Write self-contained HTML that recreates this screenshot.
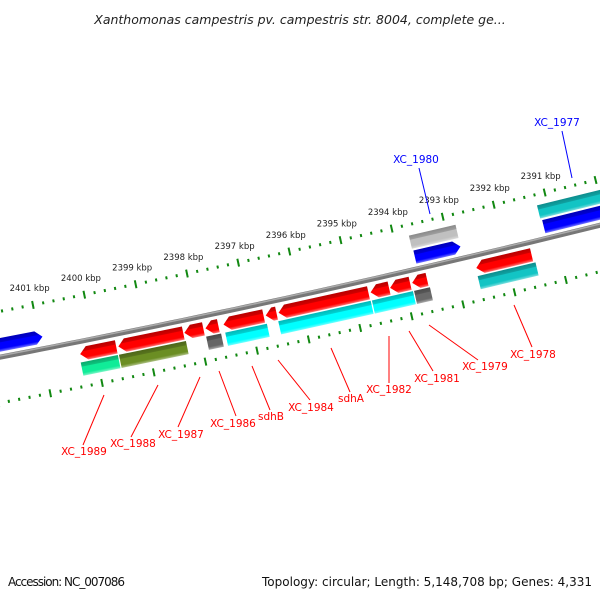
<!DOCTYPE html>
<html><head><meta charset="utf-8"><style>
html,body{margin:0;padding:0;background:#fff;width:600px;height:600px;overflow:hidden}
svg text{font-family:"DejaVu Sans","Liberation Sans",sans-serif}
</style></head><body>
<svg id="map" width="600" height="600" viewBox="0 0 600 600" xmlns="http://www.w3.org/2000/svg">
<defs id="defs"></defs>
<rect x="0" y="0" width="600" height="600" fill="#fff"/>
<text x="300" y="24" text-anchor="middle" font-size="12.5" font-style="italic" fill="#222">Xanthomonas campestris pv. campestris str. 8004, complete ge...</text>
<g id="ticks"></g>
<g id="backbone"></g>
<g id="genes"></g>
<g id="labels"></g>
<text x="8" y="586" font-size="12" fill="#111" textLength="117">Accession: NC_007086</text>
<text x="262" y="586" font-size="12" fill="#111" textLength="330">Topology: circular; Length: 5,148,708 bp; Genes: 4,331</text>
</svg>
<script>
// ---- data (kbp positions) ----
const tickLabels = [2401,2400,2399,2398,2397,2396,2395,2394,2393,2392,2391];
const geneNames = ["blue-left","xc-1980-blue","xc-1977-blue","xc-1980-gray","xc-1977-teal",
  "xc-1989","xc-1988","xc-1987","xc-1986","sdhB","xc-1984","xc-1982","xc-1981","xc-1979","xc-1978",
  "xc-1989-b","xc-1988-b","xc-1987-b","xc-1986-b","xc-1984-b","xc-1982-b","xc-1981-b","xc-1978-b"];
const geneStart = [2403.0,2393.69,2391.17,2393.71,2391.20,
  2400.30,2399.56,2398.28,2397.87,2397.52,2396.70,2396.45,2394.66,2394.28,2393.85,
  2400.32,2399.58,2397.89,2397.52,2396.49,2394.67,2393.85,2392.61];
const geneEnd = [2400.94,2392.80,2389.0,2392.80,2389.0,
  2399.60,2398.30,2397.91,2397.62,2396.74,2396.49,2394.70,2394.30,2393.89,2393.56,
  2399.60,2398.28,2397.60,2396.71,2394.69,2393.87,2393.54,2391.48];
const geneStrand = [1,1,1,0,0, -1,-1,-1,-1,-1,-1,-1,-1,-1,-1, 0,0,0,0,0,0,0,0];
const geneTrack = [-1,-1,-1,-2,-2, 1,1,1,1,1,1,1,1,1,1, 2,2,2,2,2,2,2,2];
const geneColor = ["#0000ff","#0000ff","#0000ff","#c0c0c0","#12c4c4",
  "#ff0000","#ff0000","#ff0000","#ff0000","#ff0000","#ff0000","#ff0000","#ff0000","#ff0000","#ff0000",
  "#10ec98","#6b8e23","#666666","#00ffff","#00ffff","#00ffff","#6a6a6a","#12c4c4"];
// special: red 2392.60-2391.52
geneNames.push("xc-1978-red"); geneStart.push(2392.60); geneEnd.push(2391.52); geneStrand.push(-1); geneTrack.push(1); geneColor.push("#ff0000");

const labelText = ["XC_1989","XC_1988","XC_1987","XC_1986","sdhB","XC_1984","sdhA","XC_1982","XC_1981","XC_1979","XC_1978","XC_1980","XC_1977"];
const labelColor = ["r","r","r","r","r","r","r","r","r","r","r","b","b"];

// ---- geometry ----
const R = 12000, CX = -2276, CY = -11425;
const PHI_REF = Math.acos((401.7 - CX) / R);
const PX_PER_KBP = 52.6;
function phi(k){ return PHI_REF + (k - 2394) * PX_PER_KBP / R; }
function pt(k, d){ const a = phi(k); return [CX + (R + d) * Math.cos(a), CY + (R + d) * Math.sin(a)]; }
function ang(k){ const a = phi(k); return Math.atan2(-Math.cos(a), Math.sin(a)) * 180 / Math.PI; }
const NS = "http://www.w3.org/2000/svg";
function mk(tag, attrs, parent){ const e = document.createElementNS(NS, tag); for (const k in attrs) e.setAttribute(k, attrs[k]); parent.appendChild(e); return e; }

// ticks
const tg = document.getElementById('ticks');
[-45, 45].forEach(function(d){
  for (let i = 2388 * 5; i <= 2404 * 5; i++){
    const k = i / 5, major = (i % 5 === 0), L = major ? 8 : 3;
    const p1 = pt(k, d - L / 2), p2 = pt(k, d + L / 2);
    const ln = mk('line', {x1:p1[0], y1:p1[1], x2:p2[0], y2:p2[1], stroke:'#118811', 'stroke-width':2}, tg);
    
    
  }
});
tickLabels.forEach(function(k){
  const p = pt(k, -62);
  const t = mk('text', {x:p[0], y:p[1] + 3, 'text-anchor':'middle', 'font-size':'8.5', fill:'#222'}, tg);
  t.textContent = k + ' kbp';
  
  
});

// backbone
const bg = document.getElementById('backbone');
let dstr = '';
for (let k = 2405; k >= 2387; k -= 0.25){ const p = pt(k, 0); dstr += (dstr ? 'L' : 'M') + p[0].toFixed(2) + ',' + p[1].toFixed(2); }
const bb1 = mk('path', {d:dstr, fill:'none', stroke:'#777', 'stroke-width':5}, bg);


let dstr2 = '';
for (let k = 2405; k >= 2387; k -= 0.25){ const p = pt(k, -1.3); dstr2 += (dstr2 ? 'L' : 'M') + p[0].toFixed(2) + ',' + p[1].toFixed(2); }
const bb2 = mk('path', {d:dstr2, fill:'none', stroke:'#aaa', 'stroke-width':1.5}, bg);



// genes
function shade(hex, f){
  const n = parseInt(hex.slice(1), 16); let r = n >> 16, g = (n >> 8) & 255, b = n & 255;
  if (f < 1){ r *= f; g *= f; b *= f; } else { const t = f - 1; r += (255 - r) * t; g += (255 - g) * t; b += (255 - b) * t; }
  return 'rgb(' + Math.round(r) + ',' + Math.round(g) + ',' + Math.round(b) + ')';
}
const defs = document.getElementById('defs');
const gradIds = {};
function grad(c){
  if (gradIds[c]) return gradIds[c];
  const id = 'g' + Object.keys(gradIds).length;
  const lg = mk('linearGradient', {id:id, x1:0, y1:0, x2:0, y2:1}, defs);
  [[0, shade(c, 0.72)], [0.3, shade(c, 0.82)], [0.34, c], [0.78, c], [1, shade(c, 1.45)]].forEach(function(s){ mk('stop', {offset:s[0], 'stop-color':s[1]}, lg); });
  gradIds[c] = id; return id;
}
const gg = document.getElementById('genes');
const trackD = {'-2':-27.5, '-1':-12, '1':12.5, '2':27.5};
const H = 13.5;
for (let i = 0; i < geneStart.length; i++){
  const k0 = geneStart[i], k1 = geneEnd[i], d = trackD[String(geneTrack[i])];
  const L = (k0 - k1) * PX_PER_KBP, a = Math.min(7, L), h = H / 2;
  let pts;
  if (geneStrand[i] === 1) pts = [[0,-h],[L-a,-h],[L,0],[L-a,h],[0,h]];
  else if (geneStrand[i] === -1) pts = [[a,-h],[L,-h],[L,h],[a,h],[0,0]];
  else pts = [[0,-h],[L,-h],[L,h],[0,h]];
  const p = pt(k0, d), an = ang((k0 + k1) / 2);
  const g = mk('g', {transform:'translate(' + p[0].toFixed(2) + ',' + p[1].toFixed(2) + ') rotate(' + an.toFixed(3) + ')'}, gg);
  
  
  const poly = mk('polygon', {points:pts.map(function(q){ return q[0].toFixed(2) + ',' + q[1]; }).join(' '), fill:'url(#' + grad(geneColor[i]) + ')'}, g);
  
  
}

// labels (annotation leader lines in screen space)
const labelPos = [[84,451],[133,443],[181,434],[233,423],[271,416],[311,407],[351,398],[389,389],[437,378],[485,366],[533,354],[416,159],[557,122]];
const leaderFrom = [[104,395],[158,385],[200,377],[219,371],[252,366],[278,360],[331,348],[389,336],[409,331],[429,325],[514,305],[430,214],[572,178]];
const leaderTo = [[83,445],[131,437],[178,427],[236,416],[270,410],[310,400],[350,392],[389,383],[433,371],[478,360],[532,347],[419,168],[562,131]];
const lg2 = document.getElementById('labels');
for (let i = 0; i < labelText.length; i++){
  const col = labelColor[i] === 'r' ? '#ff0000' : '#0000ff';
  const ln = mk('line', {x1:leaderFrom[i][0], y1:leaderFrom[i][1], x2:leaderTo[i][0], y2:leaderTo[i][1], stroke:col, 'stroke-width':1}, lg2);
  
  
  const t = mk('text', {x:labelPos[i][0], y:labelPos[i][1] + 4, 'text-anchor':'middle', 'font-size':'10.5', fill:col}, lg2);
  t.textContent = labelText[i];
  
  
}
</script>
</body></html>
